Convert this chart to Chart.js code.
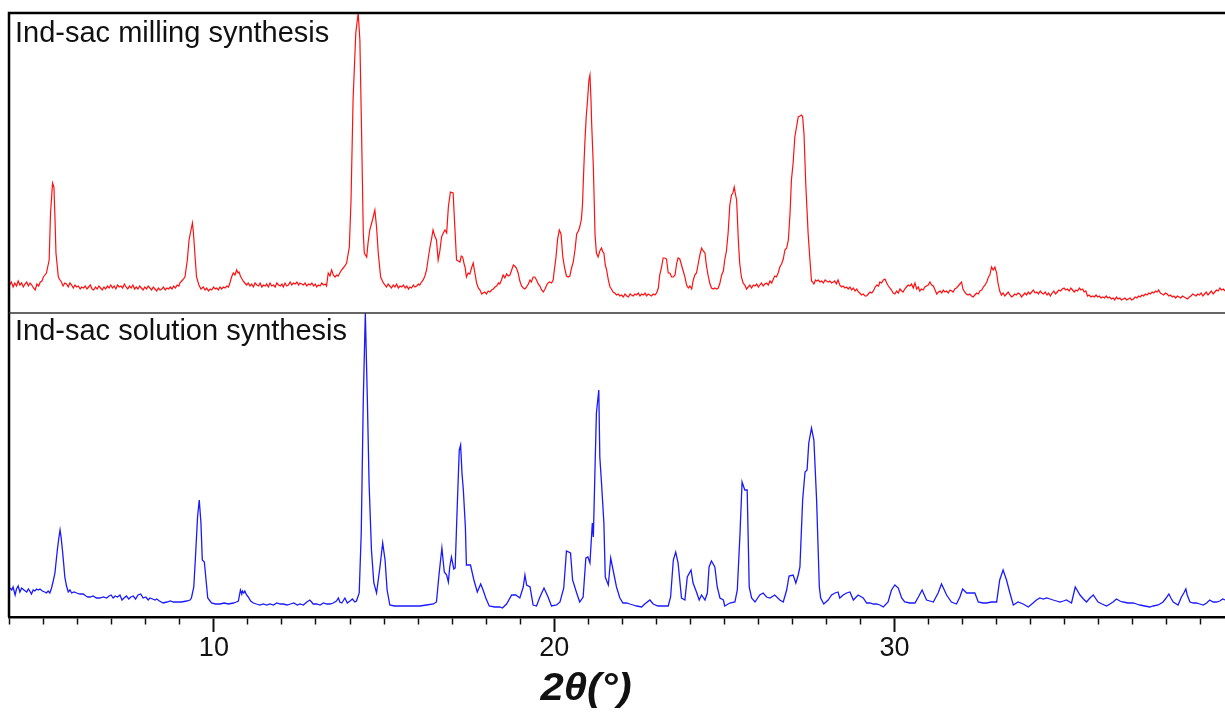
<!DOCTYPE html>
<html>
<head>
<meta charset="utf-8">
<title>Ind-sac XRD</title>
<script src="https://cdn.jsdelivr.net/npm/chart.js@4.4.0/dist/chart.umd.min.js"></script>
<style>
  html, body { margin: 0; padding: 0; background: #fff; }
  #wrap { width: 1225px; height: 713px; position: relative; }
</style>
</head>
<body>
<div id="wrap"><canvas id="xrd" width="1225" height="713"></canvas></div>
<script>
// 2theta (deg) and counts (top panel)
const millTheta = [
  4.00, 4.05, 4.10, 4.15, 4.20, 4.25, 4.30, 4.35, 4.40, 4.45, 4.50, 4.55, 4.60, 4.65, 4.70, 4.75, 4.80, 4.85, 4.90, 4.95,
  4.99, 5.08, 5.16, 5.20, 5.26, 5.30, 5.33, 5.36, 5.43, 5.48, 5.52, 5.57, 5.62, 5.67, 5.72, 5.77, 5.82, 5.87, 5.92, 5.97,
  6.02, 6.07, 6.12, 6.17, 6.22, 6.27, 6.32, 6.37, 6.42, 6.47, 6.52, 6.57, 6.62, 6.67, 6.72, 6.77, 6.82, 6.87, 6.92, 6.97,
  7.02, 7.07, 7.12, 7.17, 7.22, 7.27, 7.32, 7.37, 7.42, 7.47, 7.52, 7.57, 7.62, 7.67, 7.72, 7.77, 7.82, 7.87, 7.92, 7.97,
  8.02, 8.07, 8.12, 8.17, 8.22, 8.27, 8.32, 8.37, 8.42, 8.47, 8.52, 8.57, 8.62, 8.67, 8.72, 8.77, 8.82, 8.87, 8.92, 8.97,
  9.00, 9.08, 9.15, 9.22, 9.27, 9.31, 9.37, 9.40, 9.44, 9.49, 9.56, 9.62, 9.69, 9.74, 9.79, 9.84, 9.89, 9.94, 9.99, 10.04,
  10.08, 10.13, 10.18, 10.23, 10.28, 10.33, 10.38, 10.43, 10.47, 10.52, 10.57, 10.62, 10.67, 10.71, 10.74, 10.78, 10.81, 10.86, 10.91, 10.96,
  11.01, 11.06, 11.11, 11.16, 11.21, 11.26, 11.31, 11.36, 11.41, 11.46, 11.51, 11.55, 11.60, 11.65, 11.70, 11.75, 11.80, 11.85, 11.90, 11.95,
  12.00, 12.04, 12.09, 12.14, 12.19, 12.24, 12.29, 12.34, 12.39, 12.44, 12.49, 12.53, 12.58, 12.63, 12.68, 12.73, 12.78, 12.83, 12.88, 12.93,
  12.98, 13.02, 13.07, 13.12, 13.17, 13.22, 13.27, 13.31, 13.36, 13.41, 13.46, 13.51, 13.56, 13.61, 13.65, 13.70, 13.75, 13.80, 13.85, 13.90,
  13.98, 14.03, 14.09, 14.17, 14.24, 14.29, 14.34, 14.39, 14.42, 14.49, 14.53, 14.58, 14.66, 14.73, 14.78, 14.83, 14.90, 14.98, 15.03, 15.07,
  15.12, 15.17, 15.22, 15.27, 15.32, 15.37, 15.42, 15.47, 15.52, 15.57, 15.62, 15.67, 15.72, 15.76, 15.81, 15.86, 15.91, 15.96, 16.01, 16.05,
  16.10, 16.15, 16.20, 16.25, 16.30, 16.35, 16.40, 16.44, 16.49, 16.54, 16.59, 16.64, 16.69, 16.74, 16.79, 16.84, 16.89, 16.95, 17.03, 17.08,
  17.13, 17.18, 17.23, 17.27, 17.31, 17.36, 17.38, 17.42, 17.47, 17.52, 17.57, 17.62, 17.67, 17.72, 17.77, 17.82, 17.87, 17.91, 17.96, 18.01,
  18.06, 18.11, 18.16, 18.21, 18.26, 18.31, 18.36, 18.40, 18.45, 18.50, 18.55, 18.60, 18.65, 18.70, 18.75, 18.80, 18.84, 18.89, 18.94, 18.99,
  19.04, 19.09, 19.14, 19.19, 19.24, 19.29, 19.33, 19.38, 19.43, 19.48, 19.53, 19.58, 19.63, 19.68, 19.73, 19.78, 19.82, 19.87, 19.92, 19.97,
  20.00, 20.05, 20.10, 20.15, 20.20, 20.25, 20.30, 20.36, 20.41, 20.46, 20.51, 20.56, 20.61, 20.66, 20.71, 20.75, 20.80, 20.83, 20.87, 20.90,
  20.94, 20.98, 21.02, 21.05, 21.08, 21.10, 21.15, 21.20, 21.24, 21.29, 21.34, 21.39, 21.43, 21.46, 21.50, 21.54, 21.59, 21.64, 21.68, 21.73,
  21.78, 21.83, 21.88, 21.93, 21.98, 22.03, 22.08, 22.13, 22.18, 22.23, 22.27, 22.32, 22.37, 22.42, 22.47, 22.52, 22.57, 22.62, 22.67, 22.71,
  22.76, 22.81, 22.86, 22.91, 22.96, 23.01, 23.06, 23.10, 23.15, 23.20, 23.25, 23.30, 23.35, 23.40, 23.45, 23.50, 23.55, 23.60, 23.64, 23.69,
  23.74, 23.79, 23.84, 23.89, 23.94, 23.99, 24.04, 24.08, 24.13, 24.18, 24.23, 24.28, 24.33, 24.38, 24.43, 24.47, 24.52, 24.57, 24.62, 24.67,
  24.72, 24.77, 24.82, 24.87, 24.92, 24.97, 25.01, 25.06, 25.11, 25.16, 25.21, 25.25, 25.29, 25.33, 25.36, 25.41, 25.45, 25.50, 25.55, 25.60,
  25.65, 25.70, 25.75, 25.80, 25.85, 25.90, 25.95, 26.00, 26.04, 26.09, 26.14, 26.19, 26.24, 26.29, 26.34, 26.39, 26.44, 26.48, 26.53, 26.58,
  26.63, 26.68, 26.73, 26.78, 26.83, 26.88, 26.93, 26.97, 27.02, 27.07, 27.12, 27.17, 27.22, 27.27, 27.30, 27.34, 27.39, 27.44, 27.46, 27.51,
  27.56, 27.59, 27.63, 27.68, 27.71, 27.76, 27.81, 27.86, 27.91, 27.96, 28.00, 28.05, 28.10, 28.15, 28.20, 28.24, 28.29, 28.34, 28.39, 28.44,
  28.49, 28.54, 28.59, 28.64, 28.69, 28.74, 28.79, 28.84, 28.89, 28.94, 28.98, 29.03, 29.08, 29.13, 29.18, 29.23, 29.28, 29.33, 29.38, 29.43,
  29.48, 29.53, 29.57, 29.62, 29.67, 29.72, 29.77, 29.82, 29.86, 29.91, 29.96, 30.01, 30.06, 30.11, 30.16, 30.21, 30.25, 30.30, 30.35, 30.40,
  30.45, 30.50, 30.55, 30.60, 30.65, 30.70, 30.74, 30.79, 30.84, 30.89, 30.94, 30.99, 31.04, 31.09, 31.14, 31.19, 31.24, 31.29, 31.34, 31.39,
  31.43, 31.48, 31.53, 31.58, 31.63, 31.68, 31.72, 31.77, 31.82, 31.87, 31.92, 31.97, 32.01, 32.06, 32.11, 32.16, 32.21, 32.26, 32.31, 32.36,
  32.41, 32.46, 32.51, 32.56, 32.61, 32.66, 32.71, 32.76, 32.80, 32.85, 32.90, 32.95, 33.00, 33.04, 33.09, 33.14, 33.19, 33.24, 33.29, 33.34,
  33.39, 33.44, 33.48, 33.53, 33.58, 33.63, 33.68, 33.73, 33.78, 33.83, 33.88, 33.93, 33.98, 34.03, 34.08, 34.13, 34.18, 34.23, 34.28, 34.33,
  34.38, 34.43, 34.48, 34.53, 34.58, 34.63, 34.68, 34.73, 34.78, 34.83, 34.88, 34.93, 34.98, 35.03, 35.08, 35.13, 35.18, 35.23, 35.28, 35.33,
  35.38, 35.43, 35.48, 35.53, 35.57, 35.62, 35.67, 35.72, 35.77, 35.82, 35.87, 35.92, 35.97, 36.02, 36.07, 36.12, 36.17, 36.22, 36.27, 36.32,
  36.37, 36.42, 36.47, 36.52, 36.57, 36.62, 36.67, 36.72, 36.77, 36.82, 36.87, 36.92, 36.97, 37.02, 37.07, 37.12, 37.17, 37.22, 37.27, 37.32,
  37.37, 37.42, 37.47, 37.52, 37.57, 37.62, 37.67, 37.72, 37.76, 37.81, 37.86, 37.91, 37.96, 38.01, 38.06, 38.11, 38.16, 38.21, 38.26, 38.31,
  38.36, 38.41, 38.46, 38.51, 38.56, 38.61, 38.66, 38.71, 38.76, 38.81, 38.86, 38.91, 38.96, 39.01, 39.06, 39.11, 39.16, 39.21, 39.26, 39.31,
  39.36, 39.41, 39.46, 39.51, 39.56, 39.61, 39.66, 39.71
];
const millCounts = [
  28, 31, 26, 30, 27, 32, 28, 30, 26, 29, 31, 27, 30, 28, 25, 23, 29, 27, 31, 32,
  36, 40, 53, 100, 130, 126, 96, 60, 36, 33, 31, 27, 30, 29, 26, 30, 28, 25, 28, 26,
  27, 24, 26, 25, 27, 24, 26, 28, 24, 23, 26, 24, 27, 25, 23, 26, 24, 27, 25, 28,
  25, 27, 24, 28, 26, 27, 25, 29, 26, 24, 27, 25, 28, 24, 26, 24, 27, 25, 23, 26,
  24, 27, 25, 23, 26, 24, 22, 25, 23, 24, 26, 23, 25, 24, 26, 24, 27, 25, 28, 27,
  30, 33, 36, 53, 73, 80, 90, 80, 60, 36, 28, 24, 26, 23, 25, 22, 24, 23, 26, 24,
  25, 23, 26, 24, 26, 25, 27, 26, 30, 36, 40, 38, 43, 40, 41, 37, 35, 32, 30, 28,
  30, 27, 29, 26, 30, 28, 27, 30, 26, 28, 27, 29, 26, 30, 27, 28, 26, 30, 28, 27,
  29, 26, 30, 27, 28, 31, 28, 30, 29, 31, 28, 30, 29, 28, 30, 27, 29, 28, 30, 27,
  29, 26, 28, 27, 30, 28, 29, 27, 40, 37, 43, 38, 36, 38, 37, 40, 43, 45, 47, 50,
  66, 113, 213, 280, 300, 273, 180, 80, 60, 56, 70, 83, 93, 103, 86, 60, 36, 30, 28, 26,
  29, 27, 25, 28, 26, 29, 25, 27, 26, 28, 25, 27, 24, 26, 25, 28, 26, 27, 29, 28,
  31, 33, 37, 43, 55, 66, 75, 83, 77, 73, 53, 62, 76, 80, 83, 80, 106, 121, 120, 86,
  53, 52, 51, 57, 56, 48, 46, 36, 40, 39, 45, 50, 40, 30, 25, 23, 19, 20, 21, 19,
  22, 21, 23, 24, 26, 27, 30, 29, 33, 38, 35, 39, 37, 38, 43, 48, 47, 45, 40, 32,
  27, 25, 24, 26, 29, 33, 31, 36, 36, 33, 29, 27, 23, 21, 24, 28, 30, 31, 30, 33,
  42, 55, 74, 83, 79, 57, 46, 37, 36, 37, 45, 51, 63, 79, 82, 86, 94, 108, 145, 170,
  196, 213, 233, 238, 214, 190, 146, 78, 60, 56, 62, 65, 61, 60, 48, 43, 33, 26, 24, 21,
  20, 18, 19, 17, 18, 16, 19, 17, 16, 19, 18, 17, 19, 18, 20, 17, 19, 18, 20, 17,
  19, 18, 17, 19, 18, 20, 25, 38, 45, 55, 55, 54, 40, 40, 36, 36, 38, 50, 55, 54,
  48, 42, 36, 28, 25, 27, 24, 32, 38, 40, 49, 58, 65, 62, 60, 48, 38, 30, 25, 24,
  25, 24, 25, 30, 38, 42, 53, 62, 80, 108, 118, 120, 126, 118, 113, 73, 50, 36, 30, 28,
  24, 26, 28, 25, 28, 27, 29, 26, 28, 30, 27, 29, 30, 28, 32, 30, 34, 37, 36, 40,
  46, 49, 54, 63, 65, 73, 100, 133, 150, 176, 186, 196, 197, 198, 196, 179, 130, 95, 80, 55,
  32, 31, 29, 33, 32, 33, 31, 32, 30, 33, 32, 31, 32, 30, 31, 32, 29, 33, 28, 26,
  27, 25, 26, 24, 26, 23, 25, 22, 24, 21, 20, 18, 19, 17, 17, 19, 21, 20, 22, 26,
  28, 27, 31, 30, 33, 34, 30, 27, 25, 23, 20, 19, 22, 20, 24, 22, 21, 24, 26, 28,
  27, 29, 25, 30, 24, 26, 22, 24, 23, 26, 27, 28, 31, 28, 27, 23, 19, 21, 22, 20,
  23, 21, 22, 20, 23, 22, 21, 24, 25, 27, 29, 31, 24, 21, 19, 18, 19, 17, 16, 18,
  20, 19, 22, 23, 26, 28, 31, 36, 38, 46, 43, 46, 40, 30, 22, 18, 20, 17, 19, 21,
  18, 16, 17, 19, 18, 20, 19, 16, 18, 20, 18, 21, 19, 21, 23, 20, 21, 19, 22, 20,
  19, 21, 18, 20, 17, 20, 22, 19, 21, 23, 22, 24, 25, 23, 24, 22, 25, 23, 21, 23,
  22, 25, 23, 24, 21, 22, 17, 18, 16, 17, 16, 18, 16, 17, 15, 16, 15, 17, 15, 16,
  14, 15, 13, 16, 14, 15, 13, 14, 15, 13, 14, 15, 13, 14, 16, 15, 17, 16, 18, 17,
  19, 18, 20, 19, 21, 20, 22, 21, 23, 20, 19, 18, 20, 19, 17, 18, 16, 17, 15, 17,
  16, 15, 17, 16, 15, 14, 16, 17, 19, 18, 17, 19, 18, 20, 17, 19, 21, 18, 20, 22,
  19, 21, 23, 22, 25, 23, 24, 22
];

// 2theta (deg) and counts (bottom panel)
const solTheta = [
  4.01, 4.06, 4.10, 4.16, 4.20, 4.25, 4.30, 4.35, 4.42, 4.50,
  4.55, 4.59, 4.64, 4.69, 4.74, 4.79, 4.84, 4.89, 4.96, 5.03,
  5.08, 5.13, 5.18, 5.23, 5.28, 5.33, 5.40, 5.44, 5.48, 5.51,
  5.55, 5.59, 5.62, 5.67, 5.72, 5.77, 5.82, 5.89, 5.97, 6.06,
  6.16, 6.24, 6.30, 6.36, 6.45, 6.55, 6.65, 6.75, 6.85, 6.92,
  6.98, 7.04, 7.10, 7.17, 7.24, 7.30, 7.36, 7.43, 7.50, 7.56,
  7.63, 7.70, 7.77, 7.85, 7.92, 8.00, 8.07, 8.12, 8.20, 8.27,
  8.32, 8.40, 8.51, 8.62, 8.72, 8.81, 8.92, 9.05, 9.20, 9.30,
  9.34, 9.41, 9.47, 9.52, 9.57, 9.62, 9.66, 9.72, 9.77, 9.82,
  9.93, 10.05, 10.18, 10.30, 10.43, 10.57, 10.66, 10.72, 10.78, 10.82,
  10.84, 10.88, 10.91, 10.96, 11.01, 11.08, 11.16, 11.25, 11.35, 11.45,
  11.55, 11.65, 11.75, 11.85, 11.95, 12.04, 12.15, 12.25, 12.35, 12.45,
  12.53, 12.63, 12.73, 12.82, 12.92, 13.02, 13.12, 13.22, 13.32, 13.41,
  13.51, 13.60, 13.66, 13.70, 13.76, 13.85, 13.92, 14.00, 14.07, 14.14,
  14.19, 14.27, 14.33, 14.39, 14.45, 14.51, 14.56, 14.63, 14.70, 14.78,
  14.88, 14.96, 15.03, 15.09, 15.17, 15.30, 15.47, 15.65, 15.85, 16.05,
  16.25, 16.45, 16.54, 16.62, 16.70, 16.77, 16.84, 16.89, 16.93, 16.98,
  17.05, 17.09, 17.15, 17.21, 17.25, 17.29, 17.33, 17.39, 17.42, 17.54,
  17.64, 17.74, 17.84, 17.91, 17.99, 18.09, 18.25, 18.40, 18.48, 18.60,
  18.75, 18.87, 18.99, 19.09, 19.14, 19.19, 19.29, 19.38, 19.48, 19.58,
  19.70, 19.82, 19.92, 20.07, 20.17, 20.28, 20.36, 20.48, 20.54, 20.66,
  20.75, 20.85, 20.93, 20.99, 21.05, 21.12, 21.15, 21.20, 21.24, 21.31,
  21.34, 21.39, 21.46, 21.50, 21.59, 21.66, 21.73, 21.83, 21.93, 22.02,
  22.13, 22.22, 22.32, 22.42, 22.57, 22.66, 22.81, 22.91, 23.05, 23.20,
  23.35, 23.42, 23.50, 23.57, 23.64, 23.74, 23.84, 23.91, 24.02, 24.08,
  24.18, 24.26, 24.33, 24.43, 24.50, 24.55, 24.62, 24.72, 24.79, 24.87,
  24.97, 25.01, 25.16, 25.31, 25.38, 25.46, 25.52, 25.60, 25.67, 25.73,
  25.80, 25.90, 26.04, 26.14, 26.24, 26.34, 26.48, 26.63, 26.73, 26.83,
  26.90, 27.02, 27.10, 27.17, 27.22, 27.30, 27.37, 27.43, 27.48, 27.56,
  27.63, 27.71, 27.79, 27.83, 27.92, 28.05, 28.15, 28.25, 28.34, 28.39,
  28.49, 28.59, 28.69, 28.79, 28.93, 29.08, 29.18, 29.28, 29.38, 29.47,
  29.57, 29.67, 29.81, 29.91, 30.01, 30.11, 30.21, 30.30, 30.45, 30.60,
  30.70, 30.81, 30.94, 31.04, 31.14, 31.28, 31.38, 31.53, 31.67, 31.82,
  31.92, 32.00, 32.12, 32.26, 32.36, 32.46, 32.60, 32.70, 32.85, 33.00,
  33.09, 33.19, 33.29, 33.39, 33.49, 33.63, 33.78, 33.93, 34.07, 34.17,
  34.27, 34.37, 34.47, 34.57, 34.66, 34.76, 34.86, 34.96, 35.05, 35.20,
  35.31, 35.45, 35.55, 35.64, 35.74, 35.84, 35.98, 36.10, 36.23, 36.33,
  36.42, 36.52, 36.62, 36.72, 36.86, 37.01, 37.11, 37.21, 37.35, 37.50,
  37.60, 37.75, 37.89, 37.98, 38.06, 38.12, 38.19, 38.33, 38.43, 38.50,
  38.56, 38.60, 38.68, 38.78, 38.87, 38.97, 39.07, 39.17, 39.26, 39.36,
  39.46, 39.56, 39.64, 39.71
];
const solCounts = [
  29, 27, 30, 22, 28, 31, 25, 29, 27, 25,
  28, 26, 23, 27, 26, 28, 27, 28, 26, 25,
  24, 26, 24, 29, 36, 44, 67, 78, 87, 80,
  67, 52, 40, 31, 25, 27, 24, 25, 24, 23,
  23, 21, 20, 20, 21, 19, 19, 20, 19, 21,
  22, 19, 21, 20, 22, 17, 19, 21, 18, 20,
  21, 18, 22, 23, 19, 20, 17, 19, 18, 17,
  18, 16, 14, 15, 16, 15, 15, 15, 16, 17,
  19, 30, 67, 100, 117, 94, 57, 55, 37, 19,
  14, 13, 13, 14, 13, 14, 15, 16, 27, 23,
  26, 24, 26, 22, 20, 16, 14, 13, 12, 13,
  12, 13, 12, 14, 13, 13, 12, 13, 14, 12,
  13, 12, 15, 17, 13, 13, 12, 14, 13, 13,
  14, 16, 19, 15, 14, 19, 14, 16, 18, 15,
  16, 24, 84, 217, 304, 217, 134, 67, 34, 24,
  50, 74, 57, 27, 12, 11, 11, 11, 11, 11,
  12, 13, 15, 44, 69, 45, 42, 35, 50, 60,
  48, 49, 110, 167, 172, 144, 127, 90, 52, 52,
  37, 25, 33, 27, 19, 11, 10, 10, 9, 13,
  22, 22, 19, 30, 42, 32, 30, 12, 11, 20,
  29, 20, 11, 12, 15, 29, 66, 64, 37, 24,
  15, 20, 59, 60, 54, 94, 80, 150, 204, 227,
  160, 134, 94, 40, 32, 59, 47, 30, 19, 14,
  14, 13, 12, 11, 10, 13, 17, 13, 11, 11,
  11, 20, 57, 65, 54, 19, 17, 40, 47, 34,
  25, 17, 22, 17, 24, 50, 56, 50, 30, 19,
  17, 11, 14, 15, 27, 84, 135, 127, 127, 30,
  19, 15, 22, 24, 20, 19, 22, 17, 15, 27,
  41, 42, 34, 42, 50, 117, 145, 147, 174, 189,
  177, 117, 30, 19, 13, 17, 22, 24, 25, 19,
  22, 24, 25, 17, 22, 19, 14, 14, 13, 13,
  12, 10, 15, 27, 32, 29, 19, 15, 14, 14,
  20, 27, 17, 16, 15, 24, 33, 22, 15, 13,
  20, 28, 24, 24, 24, 15, 14, 14, 15, 15,
  37, 47, 37, 24, 12, 15, 13, 10, 14, 17,
  19, 18, 19, 18, 17, 16, 15, 16, 17, 14,
  30, 22, 18, 15, 19, 22, 15, 13, 11, 13,
  15, 18, 16, 15, 14, 14, 13, 12, 11, 10,
  11, 12, 15, 19, 23, 19, 15, 12, 20, 24,
  28, 22, 15, 14, 14, 13, 12, 14, 17, 15,
  15, 16, 18, 17
];

const panelLabels = ['Ind-sac milling synthesis', 'Ind-sac solution synthesis'];
const labelledTicks = [10, 20, 30];
const axisTitle = '2θ(°)';

const fontFamily = '"Liberation Sans", Arial, sans-serif';

function toPoints(xs, ys) {
    return xs.map((x, i) => ({ x: x, y: ys[i] }));
}

// frame lines, panel captions and the axis title
const framePlugin = {
    id: 'frame',
    afterDraw(chart) {
        const { ctx, chartArea: a, scales } = chart;
        const mid = scales.yBot.top;
        ctx.save();
        ctx.strokeStyle = '#000';
        ctx.lineWidth = 2.5;
        ctx.beginPath();
        ctx.moveTo(a.left, a.bottom);
        ctx.lineTo(a.left, a.top);
        ctx.lineTo(a.right, a.top);
        ctx.stroke();

        ctx.strokeStyle = '#333';
        ctx.lineWidth = 1.5;
        ctx.beginPath();
        ctx.moveTo(a.left, mid);
        ctx.lineTo(a.right, mid);
        ctx.stroke();

        ctx.fillStyle = '#111';
        ctx.textAlign = 'left';
        ctx.textBaseline = 'alphabetic';
        ctx.font = '29px ' + fontFamily;
        ctx.fillText(panelLabels[0], a.left + 6, a.top + 28.5);
        ctx.fillText(panelLabels[1], a.left + 6, mid + 26.5);

        // axis title, stretched a little sideways like the original
        ctx.translate(586, 700);
        ctx.scale(1.1, 1);
        ctx.font = 'italic bold 38px ' + fontFamily;
        ctx.textAlign = 'center';
        ctx.fillText(axisTitle, 0, 0);
        ctx.restore();
    }
};

const isMajor = (c) => c.tick && Math.round(c.tick.value) % 10 === 0;

new Chart(document.getElementById('xrd'), {
    type: 'line',
    data: {
        datasets: [
            {
                label: panelLabels[0],
                data: toPoints(millTheta, millCounts),
                xAxisID: 'x',
                yAxisID: 'yTop',
                borderColor: '#ff1010',
                borderWidth: 1.2,
                pointRadius: 0,
                tension: 0
            },
            {
                label: panelLabels[1],
                data: toPoints(solTheta, solCounts),
                xAxisID: 'x',
                yAxisID: 'yBot',
                borderColor: '#1a1aff',
                borderWidth: 1.3,
                pointRadius: 0,
                tension: 0
            }
        ]
    },
    options: {
        responsive: false,
        animation: false,
        devicePixelRatio: 1,
        layout: { padding: { left: 9, top: 13, right: 0, bottom: 0 } },
        plugins: {
            legend: { display: false },
            tooltip: { enabled: false }
        },
        scales: {
            x: {
                type: 'linear',
                position: 'bottom',
                min: 3.98,
                max: 39.71,
                afterFit: (s) => { s.height = 96; },
                ticks: {
                    stepSize: 1,
                    autoSkip: false,
                    maxRotation: 0,
                    includeBounds: false,
                    padding: 0,
                    color: '#111',
                    font: { family: fontFamily, size: 27 },
                    callback: (v) => labelledTicks.includes(Math.round(v)) && Math.abs(v - Math.round(v)) < 1e-6 ? String(Math.round(v)) : ''
                },
                grid: {
                    drawOnChartArea: false,
                    drawTicks: true,
                    tickLength: 15,
                    tickColor: '#111',
                    tickWidth: (c) => isMajor(c) ? 2 : 1.5,
                    tickBorderDash: (c) => isMajor(c) ? [] : [6, 40]
                },
                border: { display: true, color: '#000', width: 2.5 }
            },
            yTop: {
                type: 'linear',
                display: false,
                position: 'left',
                min: 0,
                max: 300,
                stack: 'xrd',
                stackWeight: 300,
                weight: 2
            },
            yBot: {
                type: 'linear',
                display: false,
                position: 'left',
                min: 0,
                max: 304,
                stack: 'xrd',
                stackWeight: 304,
                weight: 1
            }
        }
    },
    plugins: [framePlugin]
});
</script>
</body>
</html>
